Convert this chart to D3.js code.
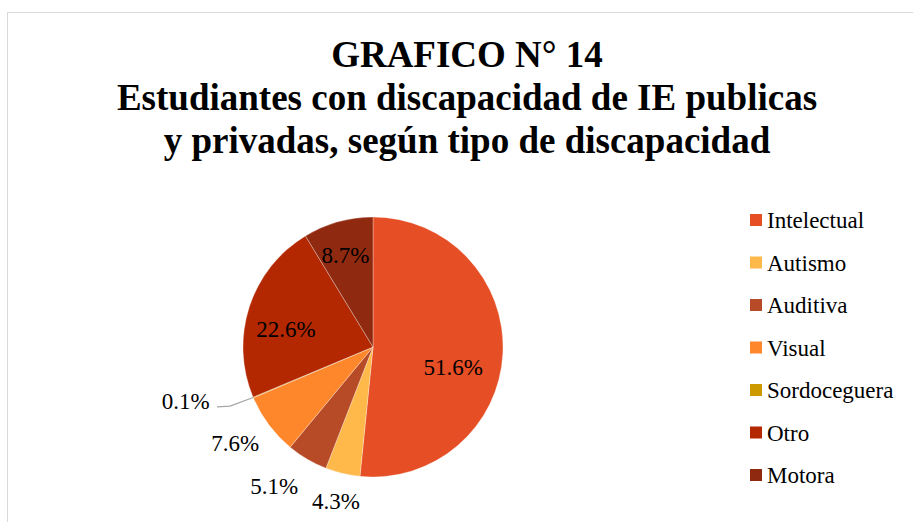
<!DOCTYPE html>
<html>
<head>
<meta charset="utf-8">
<script src="https://cdn.jsdelivr.net/npm/d3@7"></script>
<style>
  body { margin: 0; background: #fff; }
</style>
</head>
<body>
<div id="container"></div>
<script>
// data
var categories = ["Intelectual", "Autismo", "Auditiva", "Visual", "Sordoceguera", "Otro", "Motora"];
var values = [51.6, 4.3, 5.1, 7.6, 0.1, 22.6, 8.7];
var colors = ["#E64E25", "#FFB84A", "#B84B27", "#FF872B", "#CC9A00", "#B32800", "#8F2A10"];
var titleLines = ["GRAFICO N° 14", "Estudiantes con discapacidad de IE publicas", "y privadas, según tipo de discapacidad"];

var FONT = "'Liberation Serif', 'Times New Roman', Times, serif";
var width = 913, height = 522;
var cx = 373, cy = 347, radius = 130;

var svg = d3.select("#container")
  .append("svg")
    .attr("width", width)
    .attr("height", height)
    .attr("font-family", FONT);

// chart frame (runs off the right and bottom)
svg.append("rect")
  .attr("x", 7.5).attr("y", 12.5)
  .attr("width", width + 20).attr("height", height + 20)
  .attr("fill", "none")
  .attr("stroke", "#d9d9d9")
  .attr("stroke-width", 1);

// title
svg.append("g").selectAll("text")
  .data(titleLines)
  .enter()
  .append("text")
    .attr("x", 467)
    .attr("y", function (d, i) { return 67 + i * 43; })
    .attr("text-anchor", "middle")
    .attr("font-family", FONT)
    .attr("font-size", 37)
    .attr("font-weight", "bold")
    .attr("fill", "#000")
    .text(function (d) { return d; });

var pie = d3.pie().sort(null).value(function (d) { return d; });
var arcs = pie(values);
var arc = d3.arc().innerRadius(0).outerRadius(radius);

var g = svg.append("g").attr("transform", "translate(" + cx + "," + cy + ")");

g.selectAll("path")
  .data(arcs)
  .enter()
  .append("path")
    .attr("d", arc)
    .attr("fill", function (d, i) { return colors[i]; })
    .attr("stroke", "#fff")
    .attr("stroke-width", 0.3);

// label placement: radius factor and angle nudge (degrees) per slice
var place = [[0.635, 11], [1.22, 0], [1.31, 5], [1.29, 2], [null, 0], [0.685, -6], [0.74, -1]];
function labelPos(d, i) {
  if (i === 4) return [-radius * 1.44, radius * 0.415];
  var a = (d.startAngle + d.endAngle) / 2 + place[i][1] * Math.PI / 180;
  var r = radius * place[i][0];
  return [r * Math.sin(a), -r * Math.cos(a)];
}

// leader line for the tiny slice
var tiny = arcs[4];
var a = (tiny.startAngle + tiny.endAngle) / 2;
var edge = [radius * Math.sin(a), -radius * Math.cos(a)];
g.append("polyline")
  .attr("points", [[-radius * 1.2, radius * 0.46], [-radius * 1.1, radius * 0.455], edge].map(function (p) { return p.join(","); }).join(" "))
  .attr("fill", "none")
  .attr("stroke", "#a6a6a6")
  .attr("stroke-width", 1.3);

g.selectAll("text.lbl")
  .data(arcs)
  .enter()
  .append("text")
    .attr("class", "lbl")
    .attr("transform", function (d, i) { return "translate(" + labelPos(d, i) + ")"; })
    .attr("text-anchor", "middle")
    .attr("dy", "0.35em")
    .attr("font-family", FONT)
    .attr("font-size", 23)
    .attr("fill", "#000")
    .text(function (d) { return d.value.toFixed(1) + "%"; });

// legend
var legend = svg.append("g").selectAll("g")
  .data(categories)
  .enter()
  .append("g")
    .attr("transform", function (d, i) { return "translate(750," + (220 + i * 42.5) + ")"; });

legend.append("rect")
  .attr("x", 0).attr("y", -6)
  .attr("width", 12).attr("height", 12)
  .attr("fill", function (d, i) { return colors[i]; });

legend.append("text")
  .attr("x", 17)
  .attr("y", 0)
  .attr("dy", "0.35em")
  .attr("font-family", FONT)
  .attr("font-size", 23)
  .attr("fill", "#000")
  .text(function (d) { return d; });
</script>
</body>
</html>
